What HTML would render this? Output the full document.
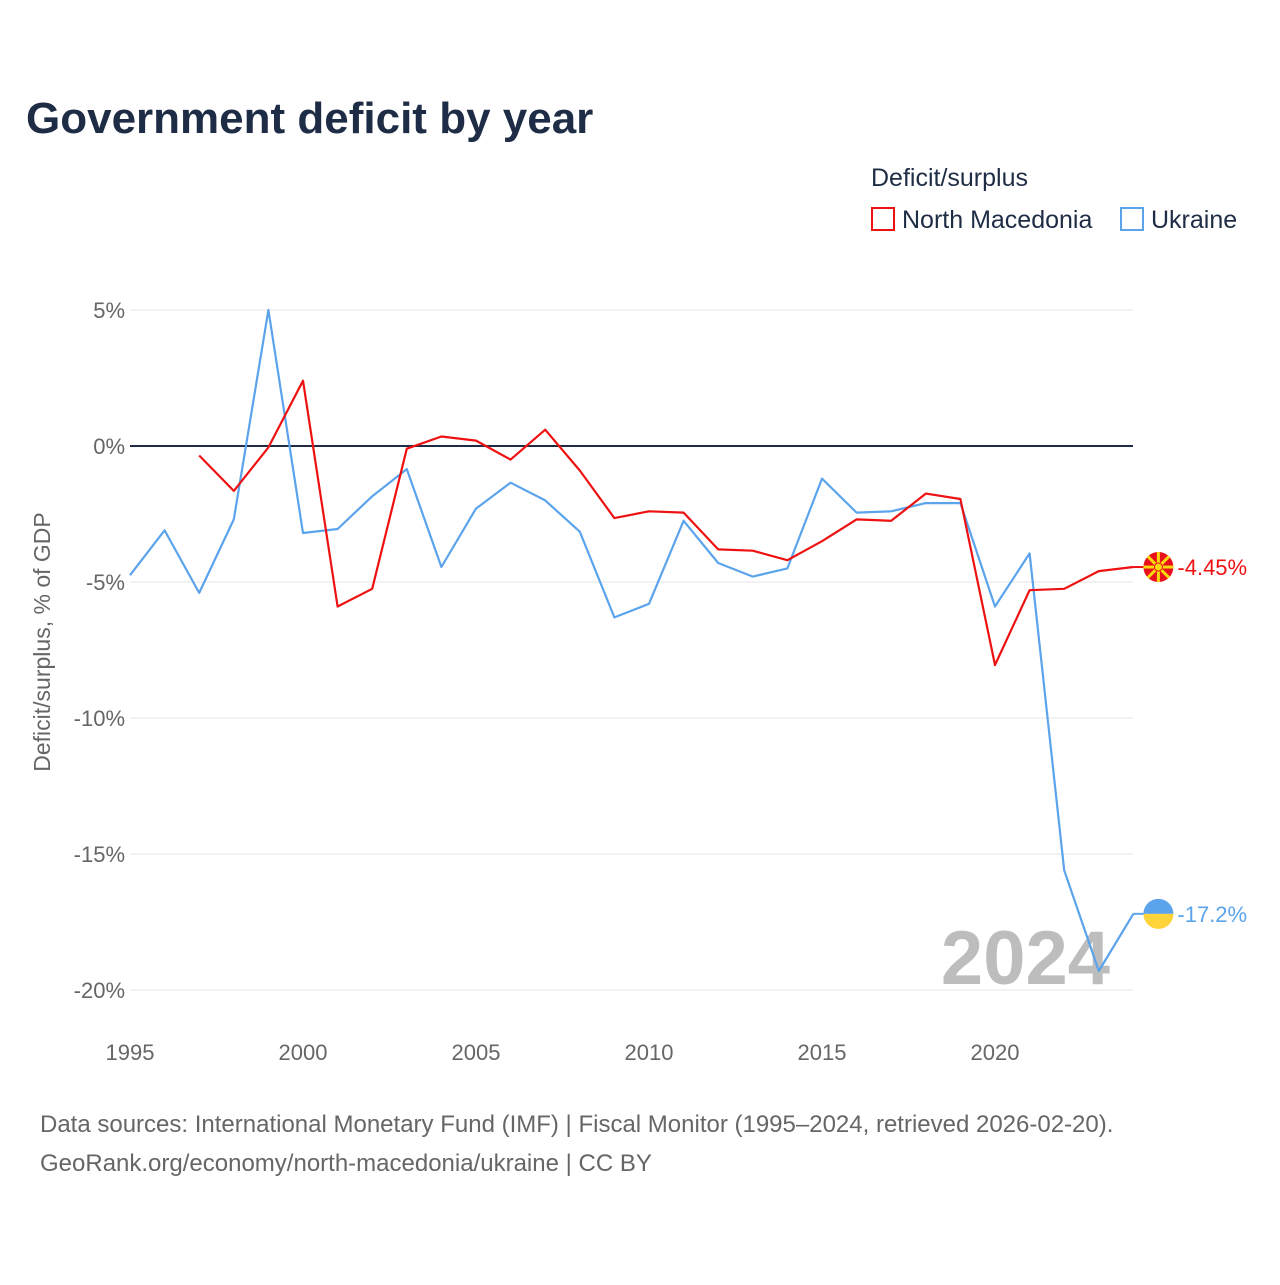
<!DOCTYPE html>
<html><head><meta charset="utf-8"><style>
body{margin:0;background:#fff;font-family:"Liberation Sans",sans-serif}
svg text{font-family:"Liberation Sans",sans-serif}
</style></head><body>
<svg id="chart" width="1280" height="1280" viewBox="0 0 1280 1280" xmlns="http://www.w3.org/2000/svg">
<text x="26" y="133" font-size="44" font-weight="bold" fill="#1e2d45">Government deficit by year</text>
<text x="871" y="186" font-size="25" fill="#1e2d45">Deficit/surplus</text>
<g>
<rect x="872" y="208" width="22" height="22" fill="none" stroke="#ee1111" stroke-width="2"/>
<text x="902" y="228" font-size="25" fill="#1e2d45">North Macedonia</text></g>
<g>
<rect x="1121" y="208" width="22" height="22" fill="none" stroke="#5ba4ec" stroke-width="2"/>
<text x="1151" y="228" font-size="25" fill="#1e2d45">Ukraine</text></g>
<text transform="translate(50,642) rotate(-90)" text-anchor="middle" font-size="23" fill="#666">Deficit/surplus, % of GDP</text>
<g id="grid"></g>
<text x="1110" y="984" text-anchor="end" font-size="76" font-weight="bold" fill="#bdbdbd">2024</text>
<g id="series"></g>
<text x="40" y="1132" font-size="24" fill="#666">Data sources: International Monetary Fund (IMF) | Fiscal Monitor (1995–2024, retrieved 2026-02-20).</text>
<text x="40" y="1171" font-size="24" fill="#666">GeoRank.org/economy/north-macedonia/ukraine | CC BY</text>
</svg>
<script>
const years=[1995,1996,1997,1998,1999,2000,2001,2002,2003,2004,2005,2006,2007,2008,2009,2010,2011,2012,2013,2014,2015,2016,2017,2018,2019,2020,2021,2022,2023,2024];
const ukraine=[-4.75,-3.1,-5.4,-2.7,5.0,-3.2,-3.05,-1.85,-0.85,-4.45,-2.3,-1.35,-2.0,-3.15,-6.3,-5.8,-2.75,-4.3,-4.8,-4.5,-1.2,-2.45,-2.4,-2.1,-2.1,-5.9,-3.95,-15.6,-19.3,-17.2];
const northMacedonia=[null,null,-0.35,-1.65,-0.05,2.4,-5.9,-5.25,-0.1,0.35,0.2,-0.5,0.6,-0.9,-2.65,-2.4,-2.45,-3.8,-3.85,-4.2,-3.5,-2.7,-2.75,-1.75,-1.95,-8.05,-5.3,-5.25,-4.6,-4.45];
const yTicks=[5,0,-5,-10,-15,-20];
const xTicks=[1995,2000,2005,2010,2015,2020];
const X=y=>130+(y-1995)*34.6;
const Y=v=>446-v*27.2;
const NS="http://www.w3.org/2000/svg";
const grid=document.getElementById('grid'),ser=document.getElementById('series');
function mk(tag,at,parent){const e=document.createElementNS(NS,tag);for(const k in at)e.setAttribute(k,at[k]);parent.appendChild(e);return e;}
yTicks.forEach(t=>{
 const l=mk('line',{x1:130,x2:1133,y1:Y(t),y2:Y(t),stroke:t===0?'#1e2d45':'#e6e6e6','stroke-width':t===0?2:1},grid);
 
 
 const tx=mk('text',{x:125,y:Y(t)+8,'text-anchor':'end','font-size':22,fill:'#666'},grid);
 tx.textContent=t+'%';
 
 
});
xTicks.forEach(t=>{
 const tx=mk('text',{x:X(t),y:1060,'text-anchor':'middle','font-size':22,fill:'#666'},grid);
 tx.textContent=t;
 
 
});
function line(vals,color,name){
 let d='';vals.forEach((v,i)=>{if(v===null)return;d+=(d?'L':'M')+X(years[i]).toFixed(1)+','+Y(v).toFixed(1);});
 const p=mk('path',{d:d,fill:'none',stroke:color,'stroke-width':2.2,'stroke-linejoin':'round'},ser);
 
 
}
line(ukraine,'#5ba4ec','ukraine-line');
line(northMacedonia,'#ee1111','north-macedonia-line');
function endLabel(vals,color,name,txt,flag){
 const v=vals[vals.length-1],x=X(2024),y=Y(v);
 const c=mk('line',{x1:x,x2:x+12,y1:y,y2:y,stroke:color,'stroke-width':2},ser);
 
 
 const g=mk('g',{},ser);
 
 
 const cx=x+25;
 if(flag==='ua'){
  mk('path',{d:`M${cx-15},${y} A15,15 0 0 1 ${cx+15},${y} Z`,fill:'#5ba4ec'},g);
  mk('path',{d:`M${cx-15},${y} A15,15 0 0 0 ${cx+15},${y} Z`,fill:'#ffd43b'},g);
 }else{
  mk('circle',{cx:cx,cy:y,r:15,fill:'#e8101a'},g);
  for(let a=0;a<8;a++){const an=a*Math.PI/4;mk('line',{x1:cx,y1:y,x2:cx+15*Math.cos(an),y2:y+15*Math.sin(an),stroke:'#f8d90f','stroke-width':3},g);}
  mk('circle',{cx:cx,cy:y,r:4,fill:'#f8d90f',stroke:'#e8101a','stroke-width':1},g);
 }
 const t=mk('text',{x:x+44,y:y+8,'font-size':22,fill:color},ser);
 t.textContent=txt;
 
 
}
endLabel(northMacedonia,'#ee1111','north-macedonia','-4.45%','mk');
endLabel(ukraine,'#5ba4ec','ukraine','-17.2%','ua');
</script>
</body></html>
